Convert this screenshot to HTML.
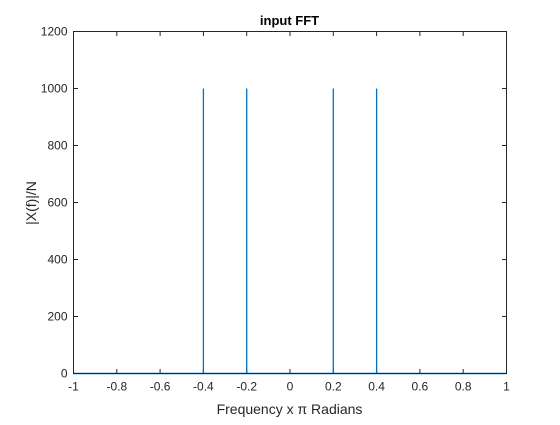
<!DOCTYPE html>
<html><head><meta charset="utf-8"><style>
body{margin:0;background:#fff;}
svg text{font-family:"Liberation Sans",Arial,sans-serif;}
</style></head><body>
<svg id="chart" width="560" height="420" viewBox="0 0 560 420" xmlns="http://www.w3.org/2000/svg">
<rect width="560" height="420" fill="#fff"/>
<text x="289.5" y="25" text-anchor="middle" font-size="13" font-weight="bold" fill="#000">input FFT</text>
<text x="289.5" y="414" text-anchor="middle" font-size="14" fill="#262626">Frequency x π Radians</text>
<text transform="translate(36,203) rotate(-90)" text-anchor="middle" font-size="14" fill="#262626">|X(f)|/N</text>
<g id="ticks"></g>
<g id="series"></g>
<rect x="73.5" y="31.5" width="433" height="342" fill="none" stroke="#262626" stroke-width="1"/>
</svg>
<script>
const xTicks=[-1,-0.8,-0.6,-0.4,-0.2,0,0.2,0.4,0.6,0.8,1];
const xTickLabels=["-1","-0.8","-0.6","-0.4","-0.2","0","0.2","0.4","0.6","0.8","1"];
const yTicks=[0,200,400,600,800,1000,1200];
const yTickLabels=["0","200","400","600","800","1000","1200"];
const spikeFreqs=[-0.4,-0.2,0.2,0.4];
const spikeMags=[1000,1000,1000,1000];
const baselineMag=0;

const L=73.5,R=506.5,T=31.5,B=373.5;
const xs=v=>L+(v+1)/2*(R-L);
const ys=v=>B-v/1200*(B-T);
const NS="http://www.w3.org/2000/svg";
function mk(tag,attrs,parent){const e=document.createElementNS(NS,tag);for(const k in attrs)e.setAttribute(k,attrs[k]);parent.appendChild(e);return e;}
const tg=document.getElementById('ticks');
xTicks.forEach((v,i)=>{
  const x=xs(v);
  const t1=mk('line',{x1:x,x2:x,y1:B,y2:B-4.5,stroke:'#262626'},tg);
  
  
  const t2=mk('line',{x1:x,x2:x,y1:T,y2:T+4.5,stroke:'#262626'},tg);
  
  
  const tx=mk('text',{x:x,y:B+17,'text-anchor':'middle','font-size':'12',fill:'#262626'},tg);
  tx.textContent=xTickLabels[i];
  
  
});
yTicks.forEach((v,i)=>{
  const y=ys(v);
  const t1=mk('line',{x1:L,x2:L+4.5,y1:y,y2:y,stroke:'#262626'},tg);
  
  
  const t2=mk('line',{x1:R,x2:R-4.5,y1:y,y2:y,stroke:'#262626'},tg);
  
  
  const tx=mk('text',{x:L-6,y:y+4,'text-anchor':'end','font-size':'12',fill:'#262626'},tg);
  tx.textContent=yTickLabels[i];
  
  
});
const sg=document.getElementById('series');
const base=mk('line',{x1:xs(-1),x2:xs(1),y1:ys(baselineMag),y2:ys(baselineMag),stroke:'#0072BD','stroke-width':'1.5'},sg);


spikeFreqs.forEach((f,i)=>{
  const l=mk('line',{x1:xs(f),x2:xs(f),y1:ys(baselineMag),y2:ys(spikeMags[i]),stroke:'#0072BD','stroke-width':'1.3'},sg);
  
  
});
</script>
</body></html>
